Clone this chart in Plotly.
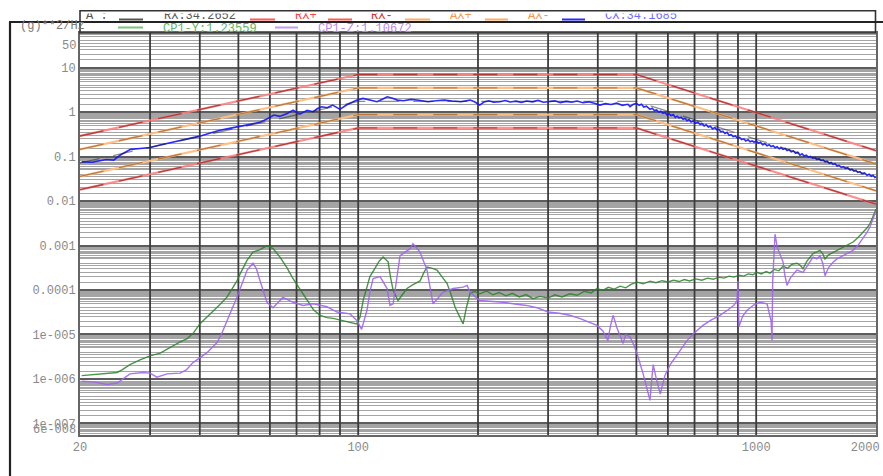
import math
import plotly.graph_objects as go

# ---------------- data ----------------
profile_freq = [20, 100, 500, 2000]
ref_psd = [0.072, 1.75, 1.75, 0.034]          # RX reference profile
abort_hi = [0.29, 7.0, 7.0, 0.136]            # RX+
abort_lo = [0.018, 0.44, 0.44, 0.0085]        # RX-
alarm_hi = [0.145, 3.5, 3.5, 0.068]           # AX+
alarm_lo = [0.036, 0.875, 0.875, 0.017]       # AX-

cx_points = [(20.2,0.076),(21.5,0.075),(23.3,0.086),(24.3,0.083),(25.2,0.107),(26.0,0.125),(26.8,0.145),(28.3,0.152),(30.0,0.160),(31.6,0.18),(33.3,0.20),(35.0,0.214),(37.5,0.25),(40.0,0.288),(42.5,0.34),(44.9,0.39),(47.5,0.43),(50.5,0.47),(53.5,0.53),(56.8,0.60),(59.0,0.70),(61.4,0.86),(63.5,0.80),(66.3,0.93),(68.6,1.11),(71.4,0.90),(74.4,1.10),(77.1,1.02),(79.0,1.20),(81.0,1.32),(83.5,1.25),(86.3,1.44),(88.0,1.30),(90.0,1.15),(93.4,1.44),(96.8,1.71),(99.0,1.85),(102.8,2.03),(106,1.90),(109,1.80),(111.5,1.71),(115,1.95),(118.3,2.21),(122,2.05),(125.5,1.86),(130,1.80),(135.7,1.93),(142,1.85),(149.7,1.71),(157,1.80),(164.6,1.86),(172,1.78),(181.2,1.71),(191,1.86),(196,1.70),(202,1.44),(207,1.68),(213,1.80),(219,1.66),(227,1.71),(234,1.82),(241,1.69),(249,1.76),(257,1.64),(265,1.78),(274,1.70),(283,1.83),(292,1.66),(303,1.71),(312,1.79),(322,1.63),(333,1.74),(344,1.68),(355,1.77),(367,1.62),(379,1.70),(392,1.58),(405,1.44),(418,1.55),(432,1.48),(446,1.60),(461,1.42),(476,1.50),(482,1.32),(490,1.48),(500,1.57),(508,1.42),(515,1.50),(522,1.30),(530,1.36),(541,1.15),(548,1.22),(555,1.08),(562,1.12),(569,1.00),(576,1.05),(583,0.94),(590,0.98),(597,0.86),(604,0.92),(611,0.84),(619,0.88),(626,0.76),(633,0.81),(640,0.74),(648,0.77),(655,0.69),(663,0.72),(670,0.64),(678,0.68),(686,0.60),(695,0.63),(704,0.56),(713,0.59),(723,0.53),(732,0.55),(740,0.49),(749,0.52),(758,0.46),(767,0.48),(777,0.42),(787,0.45),(797,0.40),(806,0.41),(815,0.36),(825,0.37),(835,0.33),(845,0.35),(855,0.30),(865,0.31),(875,0.28),(886,0.29),(897,0.26),(908,0.27),(920,0.24),(931,0.25),(942,0.225),(954,0.24),(965,0.215),(977,0.225),(988,0.21),(1000,0.225),(1013,0.20),(1025,0.21),(1038,0.185),(1051,0.195),(1065,0.175),(1078,0.185),(1090,0.168),(1103,0.176),(1116,0.158),(1129,0.166),(1142,0.150),(1155,0.158),(1168,0.145),(1182,0.152),(1196,0.136),(1210,0.142),(1225,0.128),(1240,0.134),(1256,0.119),(1272,0.125),(1288,0.108),(1304,0.115),(1320,0.103),(1336,0.108),(1352,0.097),(1369,0.101),(1386,0.092),(1404,0.095),(1422,0.086),(1439,0.090),(1456,0.081),(1473,0.084),(1490,0.076),(1508,0.079),(1525,0.071),(1543,0.074),(1560,0.067),(1579,0.069),(1597,0.061),(1616,0.063),(1636,0.057),(1656,0.059),(1676,0.054),(1698,0.056),(1721,0.050),(1740,0.052),(1760,0.047),(1780,0.049),(1800,0.044),(1823,0.046),(1846,0.041),(1872,0.043),(1899,0.038),(1922,0.040),(1945,0.036),(1966,0.038),(1988,0.034),(2000,0.035)]

cp1y_points = [(20.2,1.19e-6),(21.6,1.25e-6),(23.4,1.3e-6),(24.8,1.4e-6),(25.5,1.6e-6),(26.7,2.1e-6),(28.3,2.7e-6),(30.0,3.3e-6),(31.8,3.8e-6),(33.0,4.6e-6),(34.3,5.7e-6),(35.7,6.8e-6),(37.2,8.1e-6),(38.6,1.1e-5),(40.0,1.73e-5),(41.6,2.4e-5),(43.2,3.4e-5),(45.0,4.8e-5),(46.8,6.9e-5),(48.5,1.16e-4),(49.6,1.6e-4),(50.5,2.3e-4),(51.5,3.3e-4),(52.6,4.7e-4),(54.4,7.1e-4),(56.7,8.1e-4),(59.0,1.0e-3),(61.1,8.5e-4),(63.6,5.5e-4),(66.2,3.2e-4),(68.6,1.8e-4),(71.5,1.0e-4),(74.4,5.8e-5),(77.2,3.6e-5),(80.2,2.7e-5),(83.5,2.4e-5),(86.5,2.3e-5),(90.0,2.1e-5),(93.8,1.9e-5),(97.0,1.8e-5),(99.1,1.73e-5),(101,2.4e-5),(103,6.0e-5),(105.2,1.16e-4),(107,2.0e-4),(110,3.0e-4),(113,4.5e-4),(115.5,5.5e-4),(118.9,4.3e-4),(120.5,2.0e-4),(122.4,9.8e-5),(125.9,5.8e-5),(129,8.0e-5),(132.6,1.08e-4),(137,1.3e-4),(143,1.6e-4),(146,2.4e-4),(148.9,3.3e-4),(153,3.1e-4),(157.8,2.8e-4),(163,1.9e-4),(167.3,1.4e-4),(171,8.0e-5),(175.2,4.1e-5),(183.5,1.73e-5),(187,4.0e-5),(191.1,8.5e-5),(196,9.2e-5),(202,8.2e-5),(210,9.5e-5),(218,7.8e-5),(226,8.8e-5),(235,7.4e-5),(244,8.4e-5),(254,7.0e-5),(264,7.9e-5),(275,6.4e-5),(286,7.2e-5),(300,6.6e-5),(312,7.8e-5),(325,7.0e-5),(340,8.2e-5),(355,7.6e-5),(370,9.4e-5),(385,8.6e-5),(398,1.08e-4),(412,9.8e-5),(425,1.15e-4),(440,1.05e-4),(455,1.22e-4),(470,1.12e-4),(486,1.35e-4),(502,1.5e-4),(520,1.38e-4),(541,1.58e-4),(560,1.46e-4),(580,1.62e-4),(600,1.52e-4),(620,1.66e-4),(640,1.55e-4),(660,1.72e-4),(680,1.6e-4),(705,1.78e-4),(730,1.66e-4),(755,1.85e-4),(780,1.74e-4),(805,1.95e-4),(830,1.85e-4),(855,2.05e-4),(880,1.95e-4),(905,2.15e-4),(930,2.05e-4),(955,2.3e-4),(980,2.2e-4),(1005,2.5e-4),(1030,2.3e-4),(1060,2.6e-4),(1083,2.4e-4),(1110,2.9e-4),(1140,2.7e-4),(1168,3.4e-4),(1200,3.1e-4),(1230,3.8e-4),(1266,4.0e-4),(1290,3.6e-4),(1311,3.0e-4),(1340,4.4e-4),(1365,5.6e-4),(1389,6.6e-4),(1420,7.2e-4),(1446,7.8e-4),(1470,6.5e-4),(1489,5.0e-4),(1520,6.2e-4),(1560,7.0e-4),(1596,7.8e-4),(1640,8.8e-4),(1690,1.0e-3),(1751,1.2e-3),(1800,1.5e-3),(1850,1.9e-3),(1900,2.5e-3),(1931,3.1e-3),(1960,4.2e-3),(1988,5.7e-3),(2000,6.5e-3)]

cp1z_points = [(20.2,8.9e-7),(21.6,8.6e-7),(23.4,7.5e-7),(24.8,8.1e-7),(26.7,1.3e-6),(28.8,1.4e-6),(30.0,1.35e-6),(31.2,1.1e-6),(33.1,1.3e-6),(35.7,1.35e-6),(37.0,1.6e-6),(38.4,2.3e-6),(41.7,3.9e-6),(44.2,6.6e-6),(45.5,1.1e-5),(46.8,2.1e-5),(48.2,3.8e-5),(49.6,6.9e-5),(51.0,1.3e-4),(52.6,2.8e-4),(54.4,4.0e-4),(55.5,3.0e-4),(56.7,1.6e-4),(58.0,8.0e-5),(59.0,5.3e-5),(61.1,4.0e-5),(64.7,6.8e-5),(68.6,5.3e-5),(72.7,4.5e-5),(77.0,4.9e-5),(83.5,4.2e-5),(88.5,3.2e-5),(95.4,2.9e-5),(99.1,2.1e-5),(102,1.3e-5),(105.2,3.5e-5),(107,9.0e-5),(109,1.8e-4),(113.5,2.0e-4),(118.2,1.08e-4),(120.2,4.5e-5),(122.4,4.9e-5),(125,2.0e-4),(127.4,5.9e-4),(135,8.5e-4),(137.3,1.1e-3),(143,7.1e-4),(148.9,2.8e-4),(154.2,4.9e-5),(163.4,8.9e-5),(173.2,1.08e-4),(183.5,1.16e-4),(187.8,1.27e-4),(191.1,8.9e-5),(202,5.8e-5),(215,5.6e-5),(231,5.3e-5),(250,4.8e-5),(265,4.5e-5),(281,4.0e-5),(300,3.2e-5),(320,3.0e-5),(340,2.7e-5),(360,2.3e-5),(380,1.9e-5),(398,1.6e-5),(412,1.2e-5),(424,7.3e-6),(430,1.5e-5),(437,2.7e-5),(447,1.4e-5),(455,9.0e-6),(463,6.3e-6),(470,1.0e-5),(482,8.8e-6),(492,6.0e-6),(502,3.7e-6),(520,1.3e-6),(530,7.0e-7),(541,3.3e-7),(546,9.0e-7),(551,2.1e-6),(560,1.1e-6),(574,4.6e-7),(590,1.2e-6),(608,2.1e-6),(640,4.0e-6),(670,7.3e-6),(700,1.1e-5),(735,1.6e-5),(770,2.1e-5),(811,2.7e-5),(850,3.6e-5),(880,4.6e-5),(895,5.8e-5),(900,1.6e-4),(905,1.5e-5),(925,2.6e-5),(949,3.5e-5),(985,4.6e-5),(1022,5.3e-5),(1050,5.0e-5),(1065,4.9e-5),(1090,2.0e-5),(1096,7.3e-6),(1100,1.5e-4),(1115,1.8e-3),(1130,9.0e-4),(1150,6.0e-4),(1168,4.3e-4),(1180,2.2e-4),(1195,1.27e-4),(1220,1.9e-4),(1266,2.8e-4),(1311,2.5e-4),(1350,3.8e-4),(1389,5.5e-4),(1420,5.0e-4),(1446,5.9e-4),(1470,4.0e-4),(1489,2.1e-4),(1520,3.2e-4),(1560,4.2e-4),(1596,5.0e-4),(1650,5.8e-4),(1700,6.8e-4),(1751,7.8e-4),(1800,1.0e-3),(1850,1.4e-3),(1900,2.0e-3),(1931,2.6e-3),(1960,3.6e-3),(1988,5.2e-3),(2000,6.0e-3)]

x_tick_vals = [20, 100, 1000, 2000]
x_tick_text = ["20", "100", "1000", "2000 Hz"]
x_grid_vals = [30, 40, 50, 60, 70, 80, 90, 100, 200, 300, 400, 500, 600, 700, 800, 900, 1000]
y_tick_vals = [1e-7, 1e-6, 1e-5, 1e-4, 1e-3, 1e-2, 1e-1, 1, 10]
y_tick_text = ["1e-007", "1e-006", "1e-005", "0.0001", "0.001", "0.01", "0.1", "1", "10"]

legend_labels = ["A :", "RX:34.2652", "RX+", "RX-", "AX+", "AX-", "CX:34.1685",
                 "CP1-Y:1.23559", "CP1-Z:1.10672"]

# ---------------- layout helpers ----------------
W, H = 883, 476
ML, MR, MT, MB = 80, 7, 10, 41
PW = W - ML - MR
PH = H - MT - MB
FONT = "Liberation Mono, Courier New, monospace"

def pxx(p):
    return (p - ML) / PW

def pxy(p):
    return (H - MB - p) / PH

main_top = pxy(33)
y_lo, y_hi = 5.5e-8, 60

minor_k = [1.5, 2, 2.5, 3, 3.5, 4, 5, 5.5, 6, 6.5, 7, 7.5, 8, 8.5, 9, 9.5]
y_minor = []
for n in range(-9, 2):
    for k in minor_k:
        v = k * 10 ** n
        if y_lo < v < y_hi:
            y_minor.append(v)

def unzip(points):
    return [p[0] for p in points], [p[1] for p in points]

fig = go.Figure()

# vertical grid lines as a trace so they sit above the gray horizontal grid
vx, vy = [], []
for v in x_grid_vals:
    vx += [v, v, None]
    vy += [y_lo, y_hi, None]
fig.add_trace(go.Scatter(x=vx, y=vy, mode="lines", hoverinfo="skip",
                         line=dict(color="#3c3c3c", width=1.8)))

def limit(vals, light, dark, name):
    fig.add_trace(go.Scatter(x=profile_freq, y=vals, mode="lines", name=name,
                             line=dict(color=light, width=2.2), hoverinfo="skip"))
    fig.add_trace(go.Scatter(x=profile_freq, y=vals, mode="lines", name=name,
                             line=dict(color=dark, width=1.3, dash="24px,16px"),
                             hoverinfo="skip"))

limit(abort_hi, "rgba(255,125,125,0.85)", "rgba(140,20,20,0.65)", "RX+")
limit(abort_lo, "rgba(255,125,125,0.85)", "rgba(140,20,20,0.65)", "RX-")
limit(alarm_hi, "rgba(255,190,130,0.95)", "rgba(150,85,25,0.65)", "AX+")
limit(alarm_lo, "rgba(255,190,130,0.95)", "rgba(150,85,25,0.65)", "AX-")

gx, gy = unzip(cp1y_points)
fig.add_trace(go.Scatter(x=gx, y=gy, mode="lines", name="CP1-Y",
                         line=dict(color="rgba(40,130,40,0.85)", width=1.4)))
zx, zy = unzip(cp1z_points)
fig.add_trace(go.Scatter(x=zx, y=zy, mode="lines", name="CP1-Z",
                         line=dict(color="rgba(160,100,240,0.9)", width=1.4)))
bx, by = unzip(cx_points)
fig.add_trace(go.Scatter(x=bx, y=by, mode="lines", name="CX",
                         line=dict(color="rgba(20,20,255,0.9)", width=1.6)))
fig.add_trace(go.Scatter(x=profile_freq, y=ref_psd, mode="lines", name="RX",
                         line=dict(color="rgba(30,30,30,0.5)", width=1.3, dash="20px,14px")))

# ---------------- custom clipped legend (overlay axes) ----------------
row1_y, row2_y = 15.5, 29.0
line1_y, line2_y = 19.5, 27.5
samples = [
    (119, 143, line1_y, "#555555"),
    (250, 275, line1_y, "#ff5a5a"),
    (328, 352, line1_y, "#ff5a5a"),
    (405, 430, line1_y, "#ffad66"),
    (485, 508, line1_y, "#ffad66"),
    (562, 585, line1_y, "#2a2aff"),
    (118, 143, line2_y, "#7cc47c"),
    (275, 298, line2_y, "#c39cf5"),
]
for x0, x1, yy, c in samples:
    fig.add_trace(go.Scatter(x=[x0, x1], y=[yy, yy], mode="lines", xaxis="x2", yaxis="y2",
                             line=dict(color=c, width=2), hoverinfo="skip", cliponaxis=True))

text_x = [86, 164, 295, 371, 450, 528, 605, 163, 318]
text_y = [row1_y] * 7 + [row2_y] * 2
text_c = ["#555555", "#555555", "#ff4040", "#d03030", "#f09a50", "#f09a50", "#6b6bff",
          "#62b562", "#b987f0"]
fig.add_trace(go.Scatter(x=text_x, y=text_y, mode="text", text=legend_labels,
                         textposition="middle right", xaxis="x2", yaxis="y2",
                         textfont=dict(family=FONT, size=12, color=text_c),
                         hoverinfo="skip", cliponaxis=True))

# ---------------- layout ----------------
fig.update_layout(
    width=W, height=H, autosize=False,
    margin=dict(l=ML, r=MR, t=MT, b=MB, pad=0),
    paper_bgcolor="white", plot_bgcolor="white",
    showlegend=False,
    font=dict(family=FONT, size=12, color="#808080"),
    xaxis=dict(type="log", range=[math.log10(20), math.log10(2000)], domain=[0, 1],
               automargin=False, ticklabeloverflow="allow",
               tickmode="array", tickvals=x_tick_vals, ticktext=x_tick_text,
               showgrid=False, ticks="", zeroline=False,
               showline=True, mirror=True, linecolor="#666666", linewidth=2,
               tickfont=dict(family=FONT, size=12, color="#8a8a8a")),
    yaxis=dict(type="log", range=[math.log10(y_lo), math.log10(y_hi)], domain=[0, main_top],
               automargin=False,
               tickmode="array", tickvals=y_tick_vals, ticktext=y_tick_text,
               showgrid=True, gridcolor="#5c5c5c", gridwidth=1.5, ticks="", zeroline=False,
               showline=True, mirror=True, linecolor="#666666", linewidth=2,
               tickfont=dict(family=FONT, size=12, color="#8a8a8a"),
               minor=dict(tickmode="array", tickvals=y_minor, showgrid=True,
                          gridcolor="#a4a4a4", gridwidth=1.3, ticks="")),
    xaxis2=dict(domain=[0, 1], range=[ML, ML + PW], anchor="y2", visible=False,
                automargin=False, fixedrange=True),
    yaxis2=dict(domain=[main_top, pxy(13.5)], range=[33, 13.5], anchor="x2", visible=False,
                automargin=False, fixedrange=True),
)

fig.add_annotation(text="50", xref="paper", yref="y", x=0, y=math.log10(50),
                   xanchor="right", yanchor="top", xshift=-2, showarrow=False,
                   font=dict(family=FONT, size=12, color="#8a8a8a"))
fig.add_annotation(text="6e-008", xref="paper", yref="y", x=0, y=math.log10(6e-8),
                   xanchor="right", yanchor="middle", xshift=-2, yshift=3, showarrow=False,
                   font=dict(family=FONT, size=12, color="#8a8a8a"))
fig.add_annotation(text="(g)**2/Hz", xref="paper", yref="paper", x=pxx(18), y=pxy(26.5),
                   xanchor="left", yanchor="middle", showarrow=False,
                   font=dict(family=FONT, size=12, color="#7a7a7a"))

# legend box and outer frame
fig.add_shape(type="rect", xref="paper", yref="paper", x0=0, x1=pxx(875.5),
              y0=main_top, y1=pxy(10.8), line=dict(color="#333333", width=1.6))
fig.add_shape(type="line", xref="paper", yref="paper", x0=pxx(10), x1=pxx(10),
              y0=pxy(490), y1=pxy(22), line=dict(color="#222222", width=2.2))
fig.add_shape(type="line", xref="paper", yref="paper", x0=pxx(9), x1=pxx(890),
              y0=pxy(22), y1=pxy(22), line=dict(color="#222222", width=2.2))

# the page body has a default 8px margin; remove it so the figure fills the window
fig.write_html("out.html", config={"displayModeBar": False},
               post_script="document.body.style.margin='0';document.body.style.overflow='hidden';")
